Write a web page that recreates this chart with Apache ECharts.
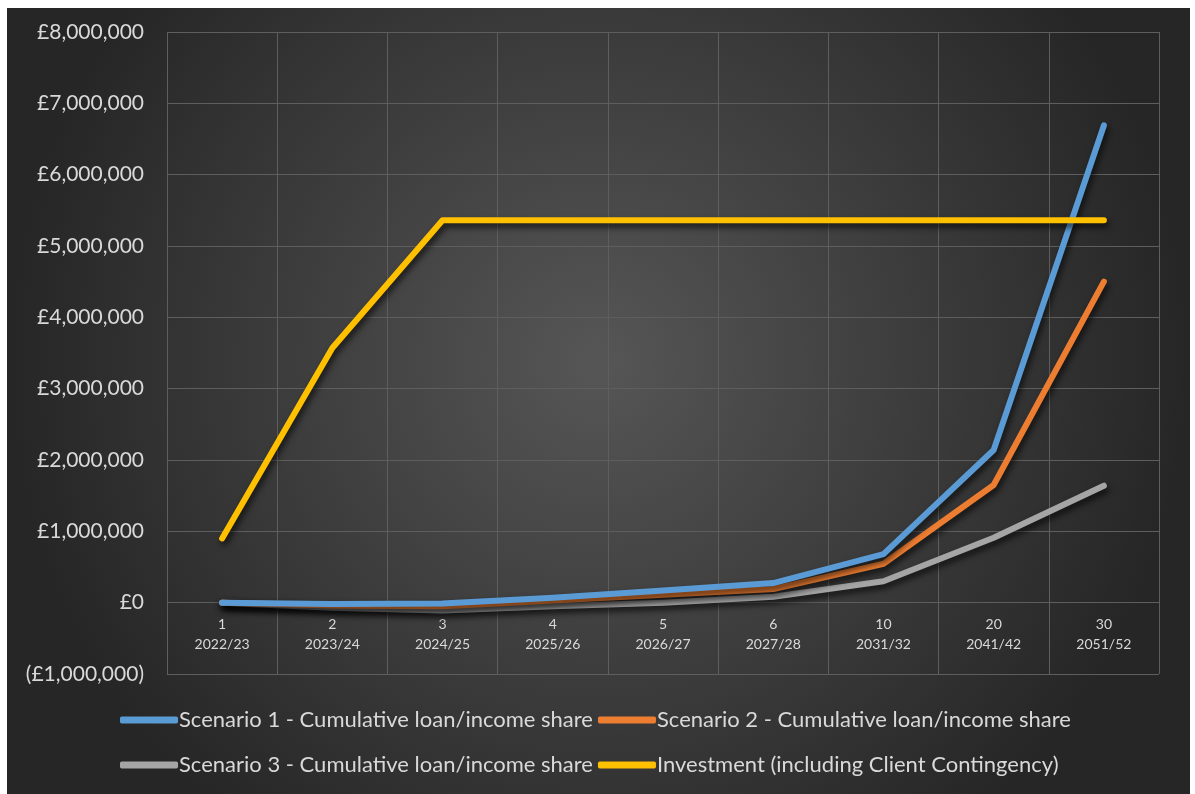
<!DOCTYPE html>
<html><head><meta charset="utf-8">
<script src="https://cdn.jsdelivr.net/npm/echarts@6/dist/echarts.min.js"></script>
<style>
html,body{margin:0;padding:0;background:#fff;width:1195px;height:794px;overflow:hidden}
#c{position:absolute;left:7px;top:8px;width:1183px;height:786px}
</style></head><body><div id="c"></div>
<script>
const periods = ['1','2','3','4','5','6','10','20','30'];
const years = ['2022/23','2023/24','2024/25','2025/26','2026/27','2027/28','2031/32','2041/42','2051/52'];
const scenario1 = [0, -20000, -10000, 70000, 170000, 275000, 680000, 2140000, 6690000];
const scenario2 = [0, -40000, -50000, 30000, 110000, 190000, 546000, 1650000, 4500000];
const scenario3 = [0, -70000, -110000, -50000, 0, 84000, 300000, 910000, 1640000];
const investment = [900000, 3570000, 5360000, 5360000, 5360000, 5360000, 5360000, 5360000, 5360000];
const seriesNames = ['Scenario 1 - Cumulative loan/income share','Scenario 2 - Cumulative loan/income share','Scenario 3 - Cumulative loan/income share','Investment (including Client Contingency)'];
const colors = ['#5b9bd5','#ed7d31','#a5a5a5','#ffc000'];
const yTicks = {min:-1000000, max:8000000, interval:1000000};

const categories = periods.map((p,i)=>p+'\n'+years[i]);
const font = 'Lato';
function fmt(v){
  const s = Math.abs(v).toLocaleString('en-GB');
  return v<0 ? '(£'+s+')' : '£'+s;
}
const dataArr=[scenario1,scenario2,scenario3,investment];
function legendRow(top, idx){
  return {top:top,left:108,orient:'horizontal',itemGap:5,itemWidth:58,itemHeight:7,
    icon:'roundRect',
    textStyle:{color:'#d9d9d9',fontFamily:font,fontSize:22,lineHeight:24,padding:[0,0,0,-4]},
    data:idx.map(i=>({name:seriesNames[i],itemStyle:{color:colors[i]}}))};
}
const chart = echarts.init(document.getElementById('c'));
chart.setOption({
  animation:false,
  backgroundColor:{type:'radial',x:0.5,y:0.45,r:0.75,colorStops:[{offset:0,color:'#565656'},{offset:1,color:'#262626'}]},
  grid:{left:160,right:31,top:24,bottom:120,containLabel:false},
  xAxis:{type:'category',data:categories,boundaryGap:true,
    axisLine:{show:false},axisTick:{show:false},
    splitLine:{show:true,lineStyle:{color:'#5e5e5e',width:1}},
    axisLabel:{color:'#d9d9d9',fontFamily:font,fontSize:14,lineHeight:20,margin:-60,interval:0}
  },
  yAxis:{type:'value',min:yTicks.min,max:yTicks.max,interval:yTicks.interval,
    axisLine:{show:false},axisTick:{show:false},
    splitLine:{lineStyle:{color:'#5e5e5e',width:1}},
    axisLabel:{color:'#d9d9d9',fontFamily:font,fontSize:21,margin:23,formatter:fmt}
  },
  legend:[legendRow(695,[0,1]), legendRow(740,[2,3])],
  series:dataArr.map((d,i)=>({
    name:seriesNames[i],type:'line',data:d,symbol:'none',z:10-i+(i===3?4:0),
    lineStyle:{color:colors[i],width:6,cap:'round',join:'round',shadowColor:'rgba(0,0,0,0.7)',shadowBlur:6,shadowOffsetX:2,shadowOffsetY:4},
    itemStyle:{color:colors[i]}
  }))
});
</script></body></html>
